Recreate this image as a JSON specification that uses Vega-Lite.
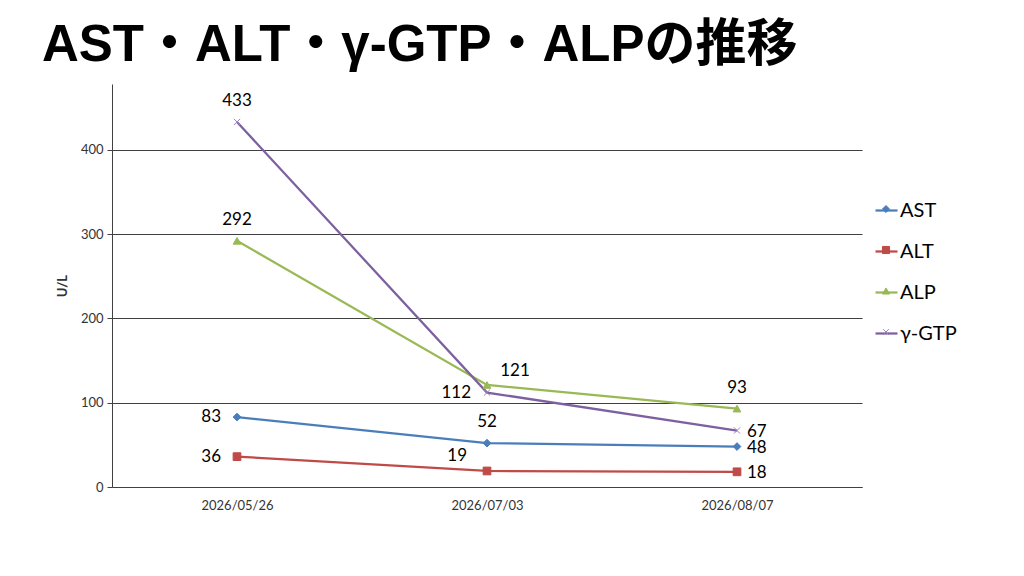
{
  "$schema": "https://vega.github.io/schema/vega-lite/v6.json",
  "width": 750,
  "height": 403,
  "autosize": "none",
  "padding": {"left": 112, "top": 84, "right": 162, "bottom": 89},
  "background": "white",
  "title": {
    "text": "AST・ALT・γ-GTP・ALPの推移",
    "anchor": "start",
    "frame": "group",
    "dx": -70,
    "offset": -28,
    "baseline": "alphabetic",
    "font": "Liberation Sans, Noto Sans CJK JP",
    "fontSize": 51,
    "fontWeight": "bold",
    "color": "#000000"
  },
  "data": {
    "values": [
      {"date": "2026/05/26", "series": "AST", "value": 83},
      {"date": "2026/07/03", "series": "AST", "value": 52},
      {"date": "2026/08/07", "series": "AST", "value": 48},
      {"date": "2026/05/26", "series": "ALT", "value": 36},
      {"date": "2026/07/03", "series": "ALT", "value": 19},
      {"date": "2026/08/07", "series": "ALT", "value": 18},
      {"date": "2026/05/26", "series": "ALP", "value": 292},
      {"date": "2026/07/03", "series": "ALP", "value": 121},
      {"date": "2026/08/07", "series": "ALP", "value": 93},
      {"date": "2026/05/26", "series": "γ-GTP", "value": 433},
      {"date": "2026/07/03", "series": "γ-GTP", "value": 112},
      {"date": "2026/08/07", "series": "γ-GTP", "value": 67}
    ]
  },
  "encoding": {
    "x": {
      "field": "date",
      "type": "nominal",
      "scale": {"type": "point", "padding": 0.5},
      "axis": {
        "title": null,
        "labelAngle": 0,
        "ticks": false,
        "grid": false,
        "domainColor": "#404040",
        "labelFont": "Lato",
        "labelFontSize": 13,
        "labelColor": "#333333",
        "labelPadding": 12
      }
    },
    "y": {
      "field": "value",
      "type": "quantitative",
      "scale": {"domain": [0, 478], "nice": false},
      "axis": {
        "values": [0, 100, 200, 300, 400],
        "title": "U/L",
        "titleFont": "Lato",
        "titleFontSize": 13,
        "titleFontWeight": "bold",
        "titleColor": "#333333",
        "titlePadding": 11,
        "grid": true,
        "gridColor": "#404040",
        "domainColor": "#404040",
        "tickColor": "#404040",
        "tickSize": 5,
        "labelPadding": 4,
        "labelFont": "Lato",
        "labelFontSize": 13,
        "labelColor": "#333333"
      }
    }
  },
  "layer": [
    {
      "mark": {"type": "line", "strokeWidth": 2.25},
      "encoding": {
        "color": {
          "field": "series",
          "type": "nominal",
          "sort": ["AST", "ALT", "ALP", "γ-GTP"],
          "scale": {"range": ["#4A7EBB", "#BE4B48", "#98B954", "#7D60A0"]},
          "legend": {
            "orient": "none",
            "legendX": 762,
            "legendY": 114,
            "padding": 0,
            "title": null,
            "symbolType": "stroke",
            "symbolSize": 484,
            "symbolStrokeWidth": 2.25,
            "labelFont": "Lato",
            "labelFontSize": 20,
            "labelColor": "#000000",
            "labelOffset": 1,
            "rowPadding": 18
          }
        }
      }
    },
    {
      "mark": {"type": "point", "filled": true, "opacity": 1, "strokeWidth": 1, "size": 60},
      "encoding": {
        "fill": {
          "field": "series",
          "type": "nominal",
          "scale": {"domain": ["AST", "ALT", "ALP", "γ-GTP"], "range": ["#4A7EBB", "#BE4B48", "#98B954", "#9A82BA"]},
          "legend": {
            "orient": "none",
            "legendX": 764,
            "legendY": 115,
            "padding": 0,
            "title": null,
            "symbolSize": 50,
            "symbolStrokeWidth": 1,
            "labelFont": "Lato",
            "labelFontSize": 20,
            "labelColor": "transparent",
            "rowPadding": 21
          }
        },
        "stroke": {
          "field": "series",
          "type": "nominal",
          "scale": {"domain": ["AST", "ALT", "ALP", "γ-GTP"], "range": ["#4A7EBB", "#BE4B48", "#98B954", "#9A82BA"]},
          "legend": {
            "orient": "none",
            "legendX": 764,
            "legendY": 115,
            "padding": 0,
            "title": null,
            "symbolSize": 50,
            "symbolStrokeWidth": 1,
            "labelFont": "Lato",
            "labelFontSize": 20,
            "labelColor": "transparent",
            "rowPadding": 21
          }
        },
        "shape": {
          "field": "series",
          "type": "nominal",
          "scale": {"domain": ["AST", "ALT", "ALP", "γ-GTP"], "range": ["diamond", "square", "triangle-up", "M-0.8,-0.8L0.8,0.8M-0.8,0.8L0.8,-0.8"]},
          "legend": {
            "orient": "none",
            "legendX": 764,
            "legendY": 115,
            "padding": 0,
            "title": null,
            "symbolSize": 50,
            "symbolStrokeWidth": 1,
            "labelFont": "Lato",
            "labelFontSize": 20,
            "labelColor": "transparent",
            "rowPadding": 21
          }
        }
      }
    },
    {
      "transform": [{"filter": "(datum.series == 'γ-GTP' && datum.date == '2026/05/26') || (datum.series == 'AST' && datum.date == '2026/07/03') || (datum.series == 'ALP' && datum.date != '2026/07/03')"}],
      "mark": {"type": "text", "font": "Lato", "fontSize": 17, "color": "#000000", "dy": -21},
      "encoding": {"text": {"field": "value", "type": "quantitative"}}
    },
    {
      "transform": [{"filter": "datum.series == 'ALP' && datum.date == '2026/07/03'"}],
      "mark": {"type": "text", "font": "Lato", "fontSize": 17, "color": "#000000", "dx": 28, "dy": -14},
      "encoding": {"text": {"field": "value", "type": "quantitative"}}
    },
    {
      "transform": [{"filter": "(datum.date == '2026/05/26' && (datum.series == 'AST' || datum.series == 'ALT')) || (datum.series == 'γ-GTP' && datum.date == '2026/07/03')"}],
      "mark": {"type": "text", "font": "Lato", "fontSize": 17, "color": "#000000", "align": "right", "dx": -16, "dy": 0},
      "encoding": {"text": {"field": "value", "type": "quantitative"}}
    },
    {
      "transform": [{"filter": "datum.series == 'ALT' && datum.date == '2026/07/03'"}],
      "mark": {"type": "text", "font": "Lato", "fontSize": 17, "color": "#000000", "align": "right", "dx": -20, "dy": -15},
      "encoding": {"text": {"field": "value", "type": "quantitative"}}
    },
    {
      "transform": [{"filter": "datum.date == '2026/08/07' && datum.series != 'ALP'"}],
      "mark": {"type": "text", "font": "Lato", "fontSize": 17, "color": "#000000", "align": "left", "dx": 10, "dy": 1},
      "encoding": {"text": {"field": "value", "type": "quantitative"}}
    }
  ],
  "config": {
    "view": {"stroke": null}
  }
}
